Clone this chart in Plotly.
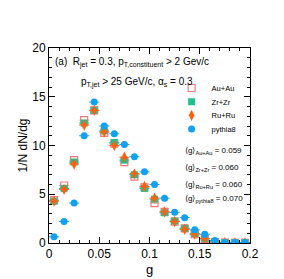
import plotly.graph_objects as go

g_bins = [0.005, 0.015, 0.025, 0.035, 0.045, 0.055, 0.065, 0.075, 0.085, 0.095,
          0.105, 0.115, 0.125, 0.135, 0.145, 0.155, 0.165, 0.175, 0.185, 0.195]

auau = [4.4, 5.9, 8.5, 12.6, 13.6, 11.3, 10.2, 8.3, 6.8, 5.7,
        4.1, 3.2, 2.2, 1.5, 0.9, 0.4, 0.1, 0.03, 0.02, 0.01]
zrzr = [4.3, 5.6, 8.3, 12.3, 13.6, 11.5, 10.3, 8.5, 7.0, 5.6,
        4.5, 3.1, 2.25, 1.5, 0.95, 0.45, 0.1, 0.03, 0.02, 0.01]
ruru = [4.3, 5.5, 8.1, 12.1, 13.6, 11.4, 10.0, 8.8, 7.1, 5.8,
        4.6, 3.2, 2.2, 1.4, 0.9, 0.45, 0.1, 0.03, 0.02, 0.01]
pythia = [0.63, 2.2, 4.1, 11.0, 14.45, 12.0, 11.2, 10.1, 8.85, 7.3,
          6.0, 4.6, 3.15, 2.6, 1.35, 0.9, 0.25, 0.05, 0.05, 0.05]

mean_labels = ["Au+Au", "Zr+Zr", "Ru+Ru", "pythia8"]
mean_values = [0.059, 0.060, 0.060, 0.070]

half_bin = 0.005

fig = go.Figure()

fig.add_trace(go.Scatter(
    x=g_bins, y=auau, mode="markers", name="Au+Au", legend="legend",
    marker=dict(symbol="square-open", size=7, color="#f07a7a", line=dict(width=1.2)),
    error_x=dict(type="constant", value=half_bin, color="#f5a0a0", thickness=1, width=0),
))
fig.add_trace(go.Scatter(
    x=g_bins, y=zrzr, mode="markers", name="Zr+Zr", legend="legend2",
    marker=dict(symbol="square", size=7, color="#1fbf8f"),
    error_x=dict(type="constant", value=half_bin, color="#1fbf8f", thickness=1, width=0),
))
fig.add_trace(go.Scatter(
    x=g_bins, y=ruru, mode="markers", name="Ru+Ru", legend="legend3",
    marker=dict(symbol="diamond-tall", size=8, color="#ff6010"),
    error_x=dict(type="constant", value=half_bin, color="#ff6010", thickness=1, width=0),
    error_y=dict(type="constant", value=0.3, color="#ff6010", thickness=1, width=0),
))
fig.add_trace(go.Scatter(
    x=g_bins, y=pythia, mode="markers", name="pythia8", legend="legend4",
    marker=dict(symbol="circle", size=7, color="#12a0f0"),
    error_x=dict(type="constant", value=half_bin, color="#12a0f0", thickness=1, width=0),
))

font_family = "Liberation Sans, Arial, sans-serif"

annotations = [
    dict(x=0.022, y=0.925, xref="paper", yref="paper", xanchor="left", yanchor="middle",
         text="(a)  R<sub>jet</sub> = 0.3, p<sub>T,constituent</sub> > 2 Gev/c",
         showarrow=False, font=dict(size=10, color="black", family=font_family)),
    dict(x=0.15, y=0.825, xref="paper", yref="paper", xanchor="left", yanchor="middle",
         text="p<sub>T,jet</sub> > 25 GeV/c, α<sub>s</sub> = 0.3",
         showarrow=False, font=dict(size=10, color="black", family=font_family)),
]
mean_y = [0.47, 0.385, 0.30, 0.225]
for lab, val, yy in zip(mean_labels, mean_values, mean_y):
    annotations.append(dict(
        x=0.665, y=yy, xref="paper", yref="paper", xanchor="left", yanchor="middle",
        text="⟨g⟩<sub>%s</sub> = %.3f" % (lab, val), showarrow=False,
        font=dict(size=8, color="black", family=font_family)))

legend_y = [0.795, 0.725, 0.655, 0.585]
legend_style = dict(x=0.61, xanchor="left", yanchor="middle",
                    bgcolor="rgba(0,0,0,0)", font=dict(size=7.5, family=font_family),
                    itemwidth=30)

fig.update_layout(
    width=284, height=279,
    margin=dict(l=41, r=42, t=40, b=40),
    paper_bgcolor="white", plot_bgcolor="white",
    font=dict(family=font_family, color="black"),
    showlegend=True,
    legend=dict(y=legend_y[0], **legend_style),
    legend2=dict(y=legend_y[1], **legend_style),
    legend3=dict(y=legend_y[2], **legend_style),
    legend4=dict(y=legend_y[3], **legend_style),
    annotations=annotations,
    xaxis=dict(range=[0, 0.2], tickvals=[0, 0.05, 0.1, 0.15, 0.2],
               ticktext=["0", "0.05", "0.1", "0.15", "0.2"],
               ticks="inside", ticklen=6, tickcolor="black",
               minor=dict(dtick=0.01, ticks="inside", ticklen=3, tickcolor="black"),
               showline=True, linecolor="black", linewidth=1, mirror="ticks",
               showgrid=False, zeroline=False,
               tickfont=dict(size=12), title=dict(text="g", font=dict(size=13), standoff=4)),
    yaxis=dict(range=[0, 20], tickvals=[0, 5, 10, 15, 20],
               ticks="inside", ticklen=6, tickcolor="black",
               minor=dict(dtick=1, ticks="inside", ticklen=3, tickcolor="black"),
               showline=True, linecolor="black", linewidth=1, mirror="ticks",
               showgrid=False, zeroline=False,
               tickfont=dict(size=12), title=dict(text="1/N dN/dg", font=dict(size=12), standoff=2)),
)

fig.write_html("out.html")
